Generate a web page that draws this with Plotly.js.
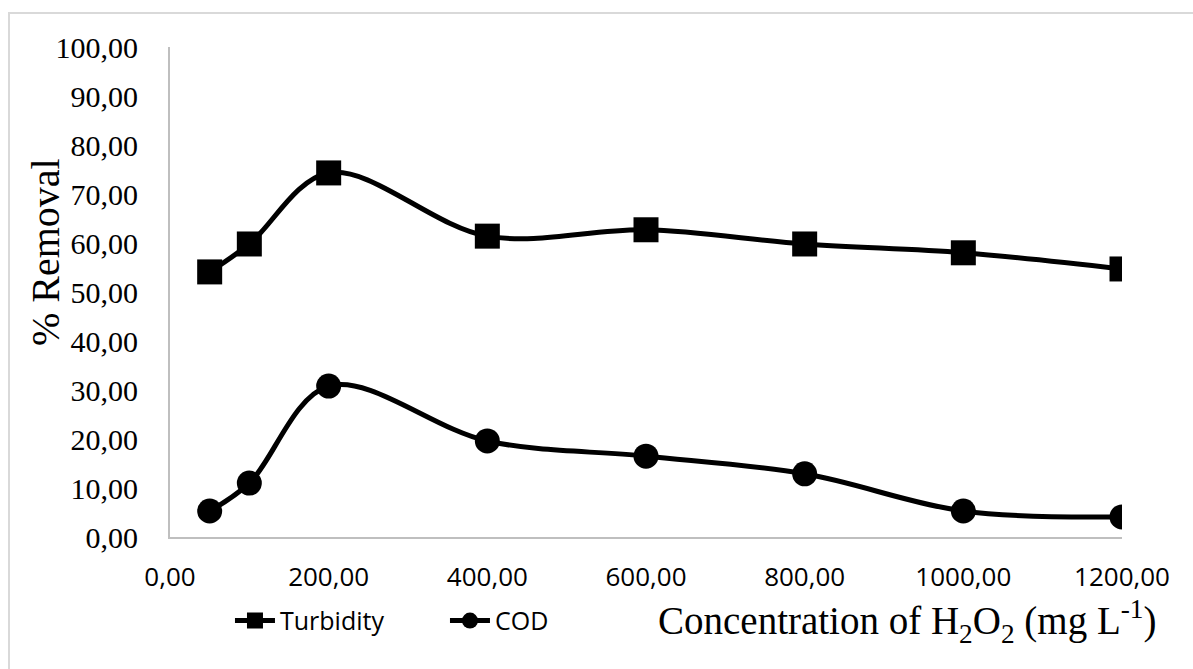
<!DOCTYPE html>
<html>
<head>
<meta charset="utf-8">
<script src="https://cdn.plot.ly/plotly-3.0.1.min.js"></script>
<style>
html,body{margin:0;padding:0;background:#fff;overflow:hidden;}
#frame{position:absolute;left:8px;top:12px;width:1250px;height:720px;border:2px solid #d9d9d9;box-sizing:border-box;}
#chart{position:absolute;left:0;top:0;width:1193px;height:669px;}
</style>
</head>
<body>
<div id="frame"></div>
<div id="chart"></div>
<script>
const concentration = [50, 100, 200, 400, 600, 800, 1000, 1200];
const turbidity = [54.1, 59.8, 74.3, 61.4, 62.7, 59.8, 58.0, 54.7];
const cod = [5.3, 11.0, 30.8, 19.6, 16.5, 12.9, 5.3, 4.1];
const xTickVals = [0, 200, 400, 600, 800, 1000, 1200];
const xTickText = ["0,00", "200,00", "400,00", "600,00", "800,00", "1000,00", "1200,00"];
const yTickVals = [0, 10, 20, 30, 40, 50, 60, 70, 80, 90, 100];
const yTickText = ["0,00", "10,00", "20,00", "30,00", "40,00", "50,00", "60,00", "70,00", "80,00", "90,00", "100,00"];

const traces = [
  {x: concentration, y: turbidity, name: "Turbidity", type: "scatter", mode: "lines+markers",
   line: {color: "#000", width: 5, shape: "spline", smoothing: 1},
   marker: {symbol: "square", size: 25, color: "#000"}},
  {x: concentration, y: cod, name: "COD", type: "scatter", mode: "lines+markers",
   line: {color: "#000", width: 5, shape: "spline", smoothing: 1},
   marker: {symbol: "circle", size: 25, color: "#000"}}
];

const serif = "Liberation Serif, Times New Roman, serif";
const sans = "Open Sans, sans-serif";

const layout = {
  width: 1193, height: 669,
  paper_bgcolor: "rgba(0,0,0,0)", plot_bgcolor: "rgba(0,0,0,0)",
  margin: {l: 170, r: 71, t: 47, b: 132},
  showlegend: true,
  legend: {orientation: "h", x: 0.063, xanchor: "left", y: -0.171, yanchor: "middle",
    font: {family: sans, size: 25, color: "#000"},
    itemwidth: 40, entrywidth: 160, entrywidthmode: "pixels", tracegroupgap: 0},
  xaxis: {range: [0, 1200], tickvals: xTickVals, ticktext: xTickText,
    showgrid: false, zeroline: false, showline: true, linecolor: "#bfbfbf", linewidth: 2,
    ticks: "", ticklabelstandoff: 16, tickfont: {family: sans, size: 26, color: "#000"},
    automargin: false},
  yaxis: {range: [0, 100], tickvals: yTickVals, ticktext: yTickText,
    showgrid: false, zeroline: false, showline: true, linecolor: "#bfbfbf", linewidth: 2,
    ticks: "", ticklabelstandoff: 24, tickfont: {family: serif, size: 30, color: "#000"},
    automargin: false},
  annotations: [
    {text: "% Removal", xref: "paper", yref: "paper", x: -0.130, y: 0.582, xanchor: "center", yanchor: "middle",
     textangle: -90, showarrow: false, font: {family: serif, size: 40, color: "#000"}},
    {text: "Concentration of H<sub>2</sub>O<sub>2</sub> (mg L<sup>-1</sup>)", xref: "paper", yref: "paper",
     x: 0.774, y: -0.173, xanchor: "center", yanchor: "middle", showarrow: false,
     font: {family: serif, size: 39, color: "#000"}}
  ]
};

Plotly.newPlot("chart", traces, layout, {displayModeBar: false, staticPlot: true});
</script>
</body>
</html>
